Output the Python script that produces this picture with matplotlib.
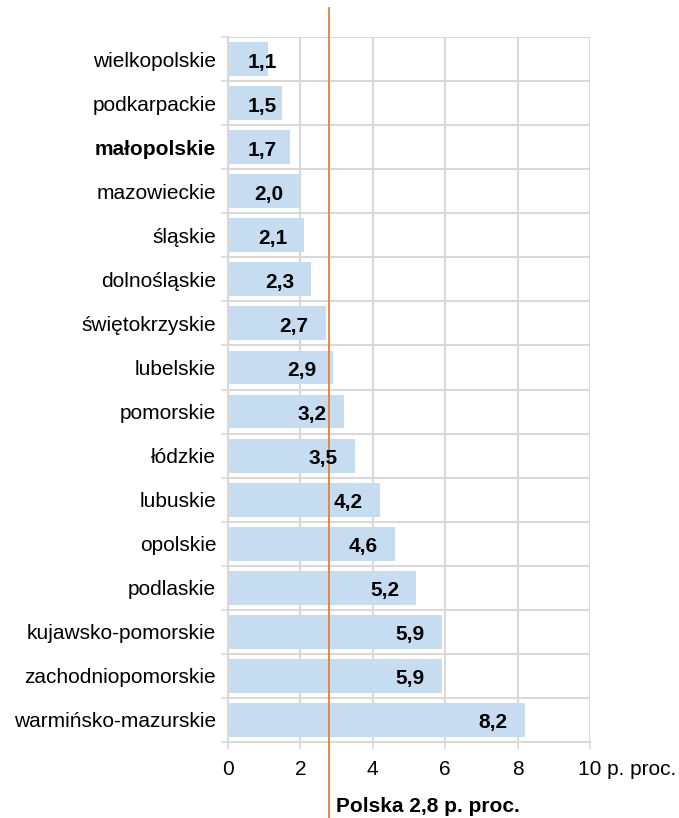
import matplotlib
matplotlib.use("Agg")
import matplotlib.pyplot as plt
import matplotlib.transforms as mtransforms
from matplotlib.lines import Line2D

plt.rcParams['font.family'] = ['Liberation Sans', 'DejaVu Sans']

regions = ["wielkopolskie", "podkarpackie", "małopolskie", "mazowieckie", "śląskie",
           "dolnośląskie", "świętokrzyskie", "lubelskie", "pomorskie", "łódzkie",
           "lubuskie", "opolskie", "podlaskie", "kujawsko-pomorskie",
           "zachodniopomorskie", "warmińsko-mazurskie"]
values = [1.1, 1.5, 1.7, 2.0, 2.1, 2.3, 2.7, 2.9, 3.2, 3.5, 4.2, 4.6, 5.2, 5.9, 5.9, 8.2]
value_labels = ["1,1", "1,5", "1,7", "2,0", "2,1", "2,3", "2,7", "2,9", "3,2", "3,5",
                "4,2", "4,6", "5,2", "5,9", "5,9", "8,2"]
xticks = [0, 2, 4, 6, 8, 10]
xtick_labels = ["0", "2", "4", "6", "8", "10 p. proc."]
poland_value = 2.8
poland_label = "Polska 2,8 p. proc."
highlight = "małopolskie"

BAR = '#c6ddf1'
GRID = '#d9d9d9'
ORANGE = '#ED7D31'
FS = 15

fig = plt.figure(figsize=(6.79, 8.18), dpi=100)
ax = fig.add_axes([228/679, 1-742/818, (590-228)/679, (742-37)/818])

ypos = list(range(len(regions)))
ax.barh(ypos, values, height=0.77, color=BAR, zorder=2)
ax.set_xlim(0, 10)
ax.set_ylim(len(regions)-0.5, -0.5)

ax.set_xticks(xticks)
ax.set_xticklabels(xtick_labels)
ax.set_yticks(ypos)
ax.set_yticklabels(regions)
ax.set_yticks([i - 0.5 for i in range(len(regions)+1)], minor=True)

ax.tick_params(axis='y', which='major', length=0, pad=8.5, labelsize=FS, colors='#000000')
ax.tick_params(axis='y', which='minor', length=5, width=1.2, color=GRID, direction='out')
ax.tick_params(axis='x', which='major', length=5, width=1.2, color=GRID, direction='out',
               pad=8, labelsize=FS)

for lab in ax.get_yticklabels():
    if lab.get_text() == highlight:
        lab.set_fontweight('bold')

# shift "10 p. proc." so that "10" is centred on the tick
last = ax.get_xticklabels()[-1]
last.set_horizontalalignment('left')
last.set_transform(last.get_transform() + mtransforms.ScaledTranslation(-11.5/100, 0, fig.dpi_scale_trans))

ax.grid(axis='x', which='major', color=GRID, linewidth=1.5, zorder=0)
ax.grid(axis='y', which='minor', color=GRID, linewidth=1.5, zorder=0)
ax.set_axisbelow(True)
for s in ['top', 'right']:
    ax.spines[s].set_visible(False)
for s in ['left', 'bottom']:
    ax.spines[s].set_color(GRID)
    ax.spines[s].set_linewidth(1.5)

# value labels
for y, v, t in zip(ypos, values, value_labels):
    # right edge = bar end - 17px, but at least 49px from bar start
    xpix_end = ax.transData.transform((v, 0))[0]
    xpix_start = ax.transData.transform((0, 0))[0]
    right = max(xpix_end - 17, xpix_start + 49)
    off = (right - xpix_end) / 100
    tr = ax.transData + mtransforms.ScaledTranslation(off, -3/100, fig.dpi_scale_trans)
    ax.text(v, y, t, transform=tr, ha='right', va='center', fontsize=FS,
            fontweight='bold', color='black', zorder=6)

# Poland average line
btr = mtransforms.blended_transform_factory(ax.transData, ax.transAxes)
ln = Line2D([poland_value, poland_value], [1 + 29/705, -0.11], transform=btr,
            color=ORANGE, linewidth=1.3, clip_on=False, zorder=5)
ax.add_line(ln)
ax.text(poland_value, -(807-742)/705, poland_label,
        transform=btr + mtransforms.ScaledTranslation(7/100, 0, fig.dpi_scale_trans),
        ha='left', va='center', fontsize=FS, fontweight='bold', color='black')

fig.savefig("out.png", dpi=100)
